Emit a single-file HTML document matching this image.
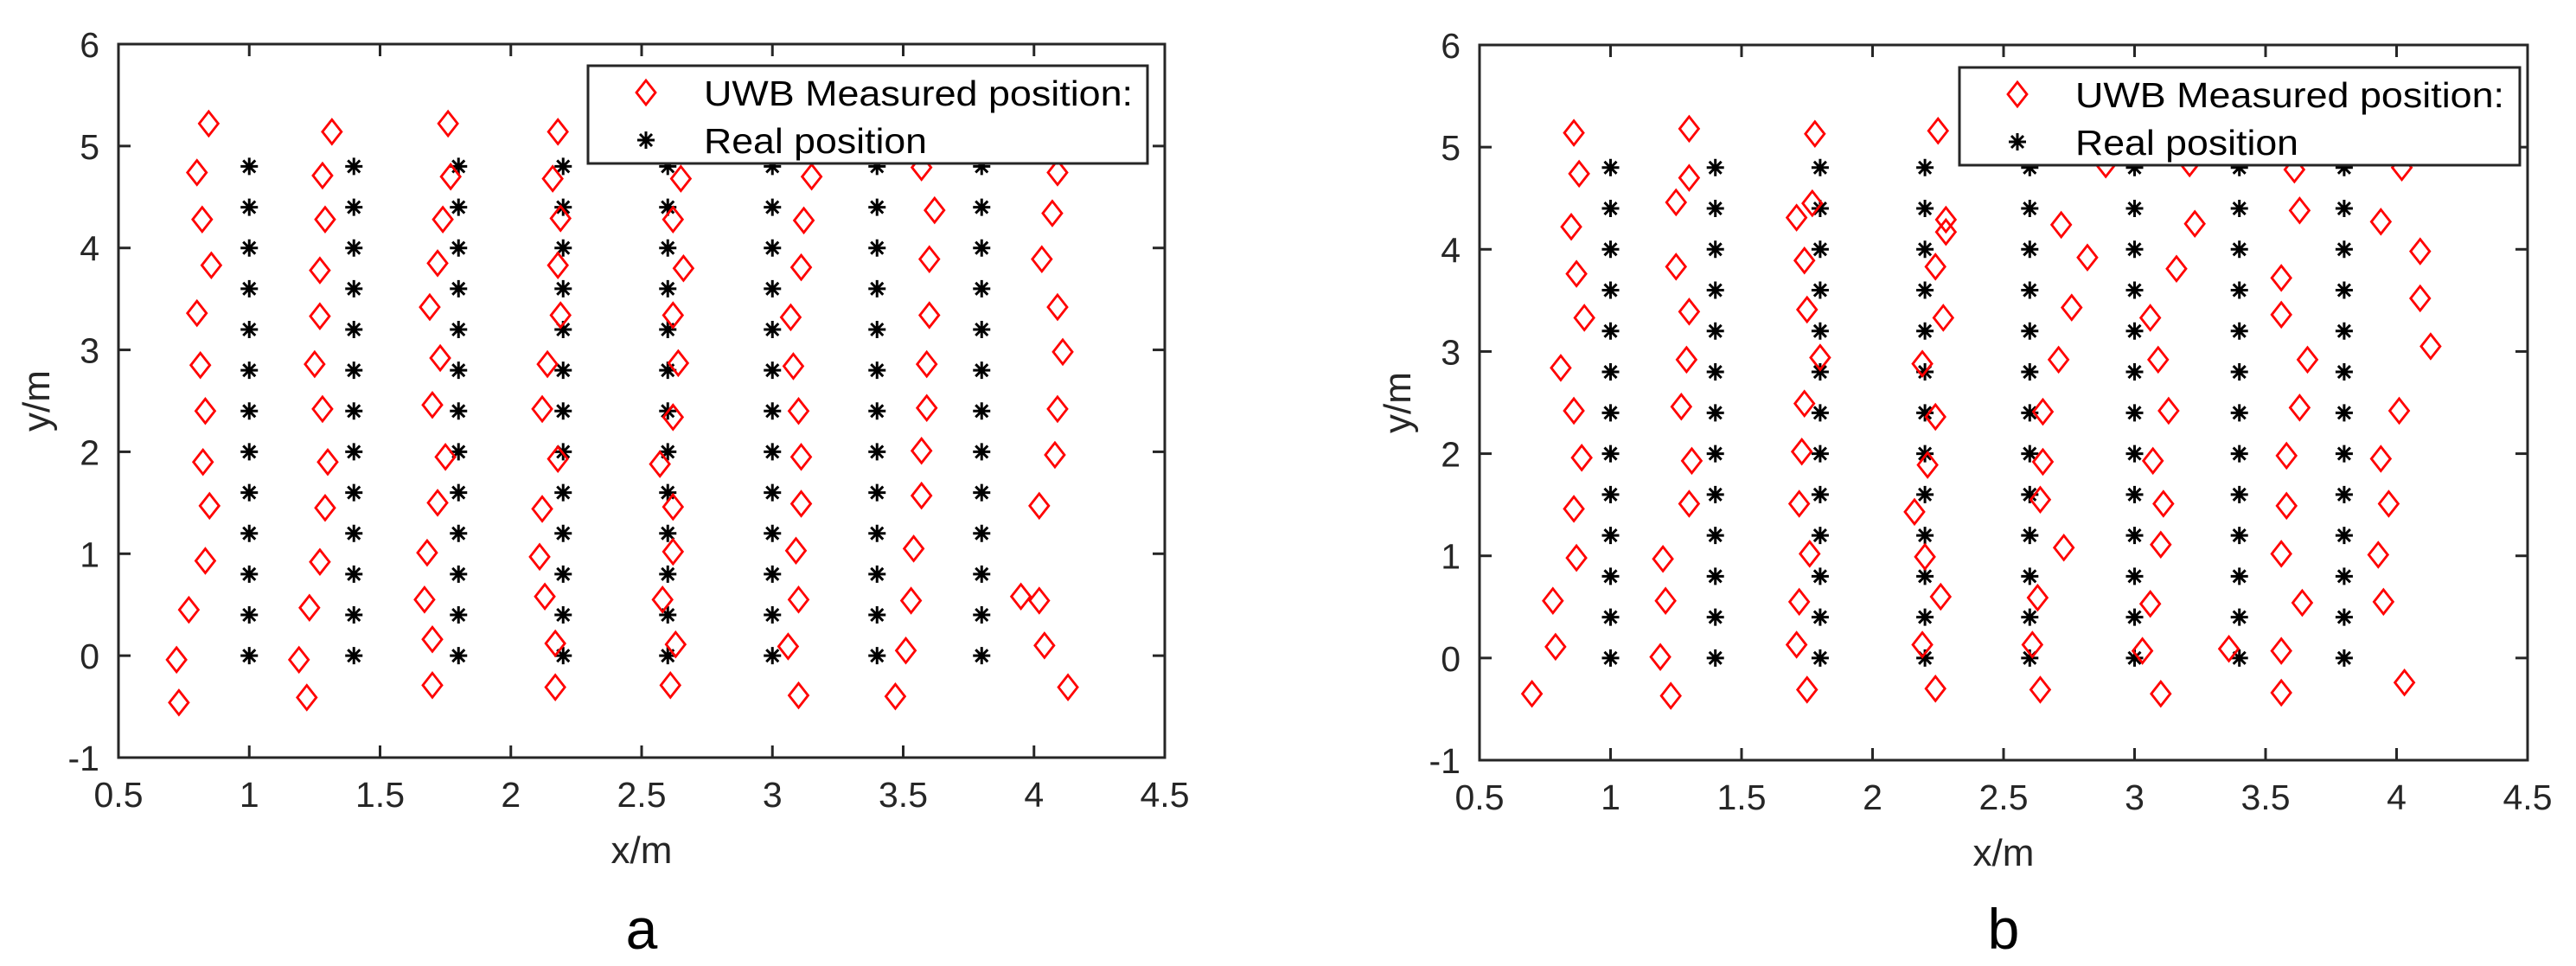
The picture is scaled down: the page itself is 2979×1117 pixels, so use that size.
<!DOCTYPE html>
<html><head><meta charset="utf-8"><style>
body{margin:0;background:#fff;}
svg{display:block;font-family:"Liberation Sans",sans-serif;}
</style></head><body>
<svg id="fig" width="2979" height="1117" viewBox="0 0 2979 1117"></svg>
<script>
const xTicks=[0.5,1,1.5,2,2.5,3,3.5,4,4.5];
const xTickLabels=["0.5","1","1.5","2","2.5","3","3.5","4","4.5"];
const yTicks=[-1,0,1,2,3,4,5,6];
const yTickLabels=["-1","0","1","2","3","4","5","6"];
const realX=[1,1.4,1.8,2.2,2.6,3.0,3.4,3.8];
const realY=[0,0.4,0.8,1.2,1.6,2.0,2.4,2.8,3.2,3.6,4.0,4.4,4.8];
const measAX=[0.845,0.80,0.82,0.855,0.80,0.813,0.832,0.823,0.848,0.832,0.769,0.722,0.731,
1.316,1.28,1.29,1.27,1.27,1.25,1.28,1.30,1.29,1.27,1.23,1.19,1.22,
1.76,1.77,1.74,1.72,1.69,1.73,1.70,1.75,1.72,1.68,1.67,1.70,1.70,
2.18,2.16,2.19,2.18,2.19,2.14,2.12,2.18,2.12,2.11,2.13,2.17,2.17,
2.65,2.62,2.66,2.62,2.64,2.62,2.57,2.62,2.62,2.58,2.63,2.61,
3.15,3.12,3.11,3.07,3.08,3.10,3.11,3.11,3.09,3.10,3.06,3.10,
3.57,3.62,3.60,3.60,3.59,3.59,3.57,3.57,3.54,3.53,3.51,3.47,
4.09,4.07,4.03,4.09,4.11,4.09,4.08,4.02,3.95,4.02,4.04,4.13];
const measAY=[5.22,4.74,4.28,3.83,3.36,2.85,2.40,1.90,1.47,0.93,0.45,-0.04,-0.46,
5.14,4.71,4.28,3.78,3.33,2.86,2.42,1.90,1.45,0.92,0.47,-0.04,-0.41,
5.22,4.70,4.28,3.85,3.42,2.92,2.46,1.95,1.50,1.01,0.55,0.16,-0.29,
5.14,4.68,4.29,3.83,3.34,2.86,2.42,1.93,1.44,0.97,0.58,0.12,-0.31,
4.68,4.28,3.80,3.34,2.87,2.34,1.88,1.46,1.02,0.55,0.11,-0.29,
4.70,4.27,3.81,3.32,2.84,2.40,1.95,1.49,1.03,0.55,0.09,-0.39,
4.79,4.37,3.89,3.34,2.86,2.43,2.01,1.57,1.05,0.54,0.05,-0.40,
4.74,4.34,3.89,3.42,2.98,2.42,1.97,1.47,0.58,0.54,0.10,-0.31];
const measBX=[0.86,0.88,0.85,0.87,0.90,0.81,0.86,0.89,0.86,0.87,0.78,0.79,0.70,
1.30,1.30,1.25,1.25,1.30,1.29,1.27,1.31,1.30,1.20,1.21,1.19,1.23,
1.78,1.77,1.71,1.74,1.75,1.80,1.74,1.73,1.72,1.76,1.72,1.71,1.75,
2.25,2.28,2.28,2.24,2.27,2.19,2.24,2.21,2.16,2.20,2.26,2.19,2.24,
2.89,2.72,2.82,2.76,2.71,2.65,2.65,2.64,2.73,2.63,2.61,2.64,
3.21,3.23,3.16,3.06,3.09,3.13,3.07,3.11,3.10,3.06,3.03,3.10,
3.61,3.63,3.56,3.56,3.66,3.63,3.58,3.58,3.56,3.64,3.36,3.56,3.56,
4.02,3.94,4.09,4.09,4.13,4.01,3.94,3.97,3.93,3.95,4.03];
const measBY=[5.14,4.74,4.22,3.76,3.33,2.84,2.42,1.96,1.46,0.98,0.56,0.11,-0.35,
5.18,4.70,4.46,3.83,3.39,2.92,2.46,1.93,1.51,0.97,0.56,0.01,-0.37,
5.13,4.45,4.31,3.89,3.41,2.94,2.49,2.02,1.51,1.02,0.55,0.13,-0.31,
5.16,4.29,4.17,3.83,3.33,2.88,2.36,1.89,1.43,0.99,0.60,0.13,-0.30,
4.83,4.24,3.92,3.43,2.92,2.41,1.92,1.55,1.08,0.59,0.13,-0.31,
4.84,4.25,3.81,3.33,2.92,2.42,1.93,1.51,1.11,0.53,0.07,-0.35,
4.78,4.38,3.72,3.36,2.92,2.45,1.98,1.49,1.02,0.54,0.09,0.07,-0.34,
4.80,4.27,3.98,3.52,3.05,2.42,1.95,1.51,1.01,0.55,-0.24];

const NS='http://www.w3.org/2000/svg';
const svg=document.getElementById('fig');
function mk(tag,attrs,parent){const e=document.createElementNS(NS,tag);for(const k in attrs)e.setAttribute(k,attrs[k]);(parent||svg).appendChild(e);return e;}
const AX='#262626';

function drawPanel(p){
  const g=mk('g',{});
  
  
  const sx=v=>p.L+(v-0.5)/4*(p.R-p.L);
  const sy=v=>p.B-(v+1)/7*(p.B-p.T);
  realX.forEach(x=>realY.forEach(y=>{
    const cx=sx(x),cy=sy(y),r=10;
    const s=mk('path',{d:`M${cx-r},${cy}H${cx+r}M${cx},${cy-r}V${cy+r}M${cx-r*0.7},${cy-r*0.7}L${cx+r*0.7},${cy+r*0.7}M${cx-r*0.7},${cy+r*0.7}L${cx+r*0.7},${cy-r*0.7}`,stroke:'#000','stroke-width':3,fill:'none'},g);
    
    
  }));
  p.mx.forEach((x,i)=>{
    const cx=sx(x),cy=sy(p.my[i]),w=11,h=14;
    const d=mk('path',{d:`M${cx},${cy-h}L${cx+w},${cy}L${cx},${cy+h}L${cx-w},${cy}Z`,stroke:'#ff0000','stroke-width':2.8,fill:'none'},g);
    
    
  });
  const f=mk('rect',{x:p.L,y:p.T,width:p.R-p.L,height:p.B-p.T,fill:'none',stroke:AX,'stroke-width':3},g);
  
  
  xTicks.forEach((v,i)=>{
    const x=sx(v);
    mk('line',{x1:x,x2:x,y1:p.B,y2:p.B-14,stroke:AX,'stroke-width':3},g);
    mk('line',{x1:x,x2:x,y1:p.T,y2:p.T+14,stroke:AX,'stroke-width':3},g);
    const t=mk('text',{x:x,y:p.B+57,'text-anchor':'middle','font-size':41,fill:AX},g);
    t.textContent=xTickLabels[i];
    
    
  });
  yTicks.forEach((v,i)=>{
    const y=sy(v);
    mk('line',{x1:p.L,x2:p.L+14,y1:y,y2:y,stroke:AX,'stroke-width':3},g);
    mk('line',{x1:p.R,x2:p.R-14,y1:y,y2:y,stroke:AX,'stroke-width':3},g);
    const t=mk('text',{x:p.L-22,y:y+15,'text-anchor':'end','font-size':41,fill:AX},g);
    t.textContent=yTickLabels[i];
    
    
  });
  const xt=mk('text',{x:(p.L+p.R)/2,y:p.B+122,'text-anchor':'middle','font-size':44,fill:AX},g);
  xt.textContent='x/m';
  
  
  const yt=mk('text',{x:0,y:0,'text-anchor':'middle','font-size':44,fill:AX,transform:`translate(${p.L-80},${(p.T+p.B)/2}) rotate(-90)`},g);
  yt.textContent='y/m';
  
  
  const cap=mk('text',{x:(p.L+p.R)/2,y:1097,'text-anchor':'middle','font-size':66,fill:'#000'},g);
  cap.textContent=p.id;
  
  
  const lg=mk('g',{},g);
  
  
  mk('rect',{x:p.lx,y:p.ly,width:p.lw,height:113,fill:'#fff',stroke:AX,'stroke-width':3},lg);
  const mx=p.lx+67, r1=p.ly+31, r2=p.ly+86;
  mk('path',{d:`M${mx},${r1-14}L${mx+11},${r1}L${mx},${r1+14}L${mx-11},${r1}Z`,stroke:'#ff0000','stroke-width':2.8,fill:'none'},lg);
  const r=10;
  mk('path',{d:`M${mx-r},${r2}H${mx+r}M${mx},${r2-r}V${r2+r}M${mx-7},${r2-7}L${mx+7},${r2+7}M${mx-7},${r2+7}L${mx+7},${r2-7}`,stroke:'#000','stroke-width':3},lg);
  const t1=mk('text',{x:p.lx+134,y:r1+15,'font-size':41,fill:'#000',textLength:496,lengthAdjust:'spacingAndGlyphs'},lg);
  t1.textContent='UWB Measured position:';
  
  
  const t2=mk('text',{x:p.lx+134,y:r2+15,'font-size':41,fill:'#000',textLength:258,lengthAdjust:'spacingAndGlyphs'},lg);
  t2.textContent='Real position';
  
  
}
drawPanel({id:'a',L:137,R:1347,T:51,B:876,mx:measAX,my:measAY,lx:680,ly:76,lw:647});
drawPanel({id:'b',L:1711,R:2923,T:52,B:879,mx:measBX,my:measBY,lx:2266,ly:78,lw:648});
</script>
</body></html>
